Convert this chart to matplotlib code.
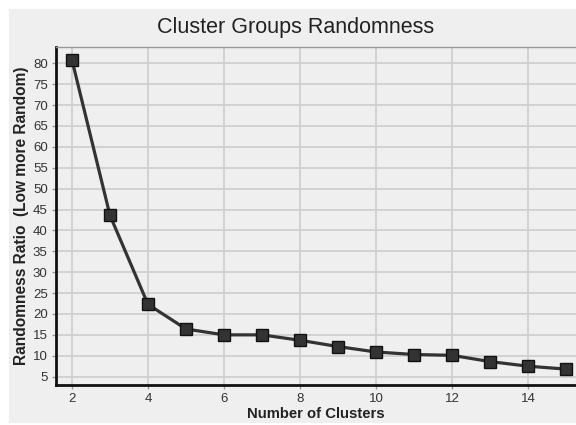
import matplotlib
matplotlib.use("Agg")
import matplotlib.pyplot as plt
from matplotlib.patches import Rectangle

# cluster count vs randomness ratio
clusters = [2, 3, 4, 5, 6, 7, 8, 9, 10, 11, 12, 13, 14, 15]
ratio = [80.8, 43.6, 22.3, 16.4, 15.0, 15.0, 13.7, 12.2, 10.9, 10.3, 10.1, 8.6, 7.5, 6.8]
x_ticks = [2, 4, 6, 8, 10, 12, 14]
y_ticks = list(range(5, 85, 5))

plt.rcParams['font.family'] = ['Liberation Sans', 'DejaVu Sans']

bg = '#efefef'
fig = plt.figure(figsize=(5.76, 4.25), dpi=100, facecolor='white')
# grey panel behind the chart
panel = Rectangle((9/576, 2/425), 1 - 9/576, 414/425,
                  transform=fig.transFigure, facecolor=bg,
                  edgecolor='none', zorder=-10)
fig.add_artist(panel)

ax = fig.add_axes([56/576, 40/425, 520/576, 338/425])
ax.set_facecolor(bg)

ax.plot(clusters, ratio, color='#333333', lw=2.3, marker='s', markersize=8.5,
        markerfacecolor='#333333', markeredgecolor='#111111', markeredgewidth=1,
        zorder=3)

ax.set_xlim(1.58, 15.26)
ax.set_ylim(3.0, 83.9)
ax.set_xticks(x_ticks)
ax.set_yticks(y_ticks)
ax.grid(True, color='#cfcfcf', lw=1.3)
ax.set_axisbelow(True)

ax.tick_params(axis='both', length=3, width=1, color='#999999',
               labelsize=9.5, labelcolor='#333333', pad=3)

for side in ['left', 'bottom']:
    ax.spines[side].set_color('#111111')
    ax.spines[side].set_linewidth(2)
ax.spines['top'].set_color('#999999')
ax.spines['top'].set_linewidth(1)
ax.spines['right'].set_visible(False)

fig.text(296/576, 1 - 27/425, 'Cluster Groups Randomness', fontsize=15.5,
         color='#222222', ha='center', va='center')
ax.set_xlabel('Number of Clusters', fontsize=10.7, fontweight='bold',
              color='#222222', labelpad=1)
ax.set_ylabel('Randomness Ratio  (Low more Random)', fontsize=11.2,
              fontweight='bold', color='#222222', labelpad=3)

fig.savefig('out.png', dpi=100, facecolor='white')
